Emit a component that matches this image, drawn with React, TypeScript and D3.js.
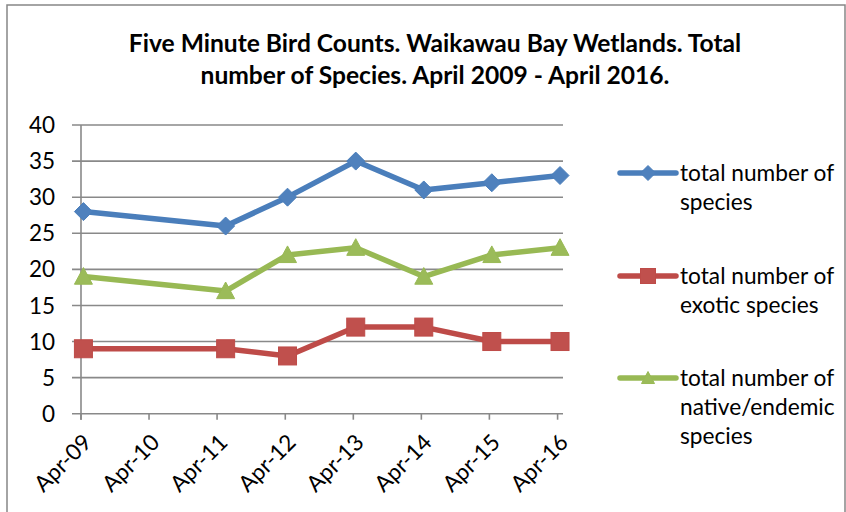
import * as d3 from "d3";

const surveyDates = [
  "2009-04-14",
  "2011-05-17",
  "2012-04-13",
  "2013-04-14",
  "2014-04-14",
  "2015-04-14",
  "2016-04-14",
];
const totalSpecies = [28, 26, 30, 35, 31, 32, 33];
const exoticSpecies = [9, 9, 8, 12, 12, 10, 10];
const nativeSpecies = [19, 17, 22, 23, 19, 22, 23];

const tickDates = [
  "2009-04-01",
  "2010-04-01",
  "2011-04-01",
  "2012-04-01",
  "2013-04-01",
  "2014-04-01",
  "2015-04-01",
  "2016-04-01",
];
const tickLabels = ["Apr-09", "Apr-10", "Apr-11", "Apr-12", "Apr-13", "Apr-14", "Apr-15", "Apr-16"];
const yTicks = [0, 5, 10, 15, 20, 25, 30, 35, 40];

const titleLines = [
  "Five Minute Bird Counts. Waikawau Bay Wetlands. Total",
  "number of Species. April 2009 - April 2016.",
];

const series = [
  { name: ["total number of", "species"], values: totalSpecies, line: "#4A7EBB", fill: "#4F81BD", marker: "diamond" },
  { name: ["total number of", "exotic species"], values: exoticSpecies, line: "#BE4B48", fill: "#C0504D", marker: "square" },
  {
    name: ["total number of", "native/endemic", "species"],
    values: nativeSpecies,
    line: "#98B954",
    fill: "#9BBB59",
    marker: "triangle",
  },
];

const font = "Lato, 'Open Sans', sans-serif";
const gridColor = "#898989";

const parse = (s: string) => {
  const [y, m, d] = s.split("-").map(Number);
  return new Date(y, m - 1, d);
};

const Marker = ({ type, x, y, fill, stroke, size }: any) => {
  if (type === "diamond") {
    const r = size / 2 + 1;
    return (
      <path
        d={`M${x},${y - r} L${x + r},${y} L${x},${y + r} L${x - r},${y} Z`}
        fill={fill}
        stroke={stroke}
        strokeWidth={1}
      />
    );
  }
  if (type === "square") {
    const h = size / 2;
    return <rect x={x - h} y={y - h} width={size} height={size} fill={fill} stroke={stroke} strokeWidth={1} />;
  }
  const h = size / 2;
  return (
    <path
      d={`M${x},${y - h} L${x + h},${y + h * 0.85} L${x - h},${y + h * 0.85} Z`}
      fill={fill}
      stroke={stroke}
      strokeWidth={1}
    />
  );
};

export default function App() {
  const x = d3
    .scaleTime()
    .domain([parse("2009-04-01"), parse("2016-04-30")])
    .range([81, 563]);
  const y = d3.scaleLinear().domain([0, 40]).range([413.7, 125]);

  const line = d3
    .line<number>()
    .x((_, i) => x(parse(surveyDates[i])))
    .y((d) => y(d));

  const legendTop = [173, 276, 378];

  return (
    <svg
      width={846}
      height={512}
      style={{ position: "absolute", left: 0, top: 0, background: "#fff" }}
      fontFamily={font}
    >
      <rect x={7} y={5} width={838} height={520} fill="#fff" stroke="#868686" strokeWidth={1.5} />

      {titleLines.map((t, i) => (
        <text key={i} x={435} y={52 + i * 32} textAnchor="middle" fontSize={24.6} fontWeight="bold" fill="#000">
          {t}
        </text>
      ))}

      {/* gridlines + y labels */}
      {yTicks.map((t) => (
        <g key={t}>
          <line x1={72} x2={563} y1={y(t)} y2={y(t)} stroke={gridColor} strokeWidth={1.6} />
          <text x={55} y={y(t)} dy="0.36em" textAnchor="end" fontSize={22.5} fill="#000">
            {t}
          </text>
        </g>
      ))}

      {/* y axis */}
      <line x1={81} x2={81} y1={y(40)} y2={y(0) + 6} stroke={gridColor} strokeWidth={1.6} />

      {/* x ticks & labels */}
      {tickDates.map((d, i) => {
        const tx = x(parse(d));
        return (
          <g key={d}>
            <line x1={tx} x2={tx} y1={y(0)} y2={y(0) + 6} stroke={gridColor} strokeWidth={1.6} />
            <text
              transform={`translate(${tx + 12},${y(0) + 30}) rotate(-45)`}
              textAnchor="end"
              fontSize={22.5}
              fill="#000"
            >
              {tickLabels[i]}
            </text>
          </g>
        );
      })}

      {/* series */}
      {series.map((s) => (
        <g key={s.marker}>
          <path d={line(s.values) || ""} fill="none" stroke={s.line} strokeWidth={5.5} strokeLinejoin="round" />
          {s.values.map((v, i) => (
            <Marker
              key={i}
              type={s.marker}
              x={x(parse(surveyDates[i]))}
              y={y(v)}
              fill={s.fill}
              stroke={s.line}
              size={s.marker === "square" ? 18 : s.marker === "diamond" ? 16 : 18}
            />
          ))}
        </g>
      ))}

      {/* legend */}
      {series.map((s, k) => (
        <g key={s.marker}>
          <line x1={620} x2={676} y1={legendTop[k]} y2={legendTop[k]} stroke={s.line} strokeWidth={5.5} strokeLinecap="round" />
          <Marker type={s.marker} x={648} y={legendTop[k]} fill={s.fill} stroke={s.line} size={s.marker === "square" ? 15 : 13} />
          {s.name.map((n, j) => (
            <text key={j} x={680} y={legendTop[k] + 8 + j * 29} fontSize={22.7} fill="#000">
              {n}
            </text>
          ))}
        </g>
      ))}
    </svg>
  );
}
